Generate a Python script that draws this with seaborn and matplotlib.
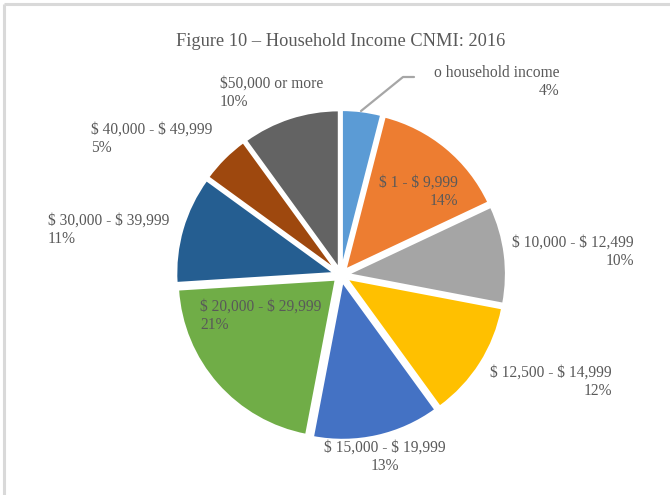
import matplotlib
matplotlib.use("Agg")
import matplotlib.pyplot as plt
import seaborn as sns

# ---- data ----
categories = ["No household income", "$ 1 - $ 9,999", "$ 10,000 - $ 12,499",
              "$ 12,500 - $ 14,999", "$ 15,000 - $ 19,999", "$ 20,000 - $ 29,999",
              "$ 30,000 - $ 39,999", "$ 40,000 - $ 49,999", "$50,000 or more"]
shown_labels = ["o household income", "$ 1 - $ 9,999", "$ 10,000 - $ 12,499",
                "$ 12,500 - $ 14,999", "$ 15,000 - $ 19,999", "$ 20,000 - $ 29,999",
                "$ 30,000 - $ 39,999", "$ 40,000 - $ 49,999", "$50,000 or more"]
shares = [4, 14, 10, 12, 13, 21, 11, 5, 10]
colors = ["#5B9BD5", "#ED7D31", "#A5A5A5", "#FFC000", "#4472C4",
          "#70AD47", "#255E91", "#9E480E", "#636363"]
title = "Figure 10 \u2013 Household Income CNMI: 2016"

sns.set_theme(style="white")
plt.rcParams["font.family"] = ["Liberation Serif", "DejaVu Serif"]
plt.rcParams["text.parse_math"] = False

W, H = 670, 495
fig = plt.figure(figsize=(W / 100, H / 100), dpi=100)
fig.patch.set_facecolor("white")
ax = fig.add_axes([0, 0, 1, 1])

cx, cy, r = 341, H - 275, 158
ax.pie(shares, colors=colors, startangle=90, counterclock=False,
       center=(cx, cy), radius=r, explode=[7] * len(shares),
       wedgeprops=dict(edgecolor="white", linewidth=1.5), frame=False)
ax.set_xlim(0, W)
ax.set_ylim(0, H)
ax.set_aspect("auto")
ax.axis("off")

# border (top & left visible)
ax.plot([4, 4], [0, H - 4], color="#D9D9D9", lw=2.2, solid_capstyle="butt")
ax.plot([4, W], [H - 4, H - 4], color="#D9D9D9", lw=2.2, solid_capstyle="butt")

txt = "#595959"
fs = 11.2

def lab(i, x, y, ha, ma):
    ax.text(x, H - y, f"{shown_labels[i]}\n{shares[i]}%", ha=ha, va="center",
            multialignment=ma, fontsize=fs, color=txt, linespacing=1.2)

lab(0, 559, 82, "right", "right")
lab(1, 458, 192, "right", "right")
lab(2, 634, 252, "right", "right")
lab(3, 612, 382, "right", "right")
lab(4, 385, 457, "center", "center")
lab(5, 200, 316, "left", "left")
lab(6, 48, 230, "left", "left")
lab(7, 91, 139, "left", "left")
lab(8, 220, 93, "left", "left")

# leader line for smallest slice
ax.plot([361, 403, 414], [H - 111, H - 77, H - 77], color="#A6A6A6", lw=1.6)

ax.text(341, H - 41, title, ha="center", va="center", fontsize=13.2, color=txt)

fig.savefig("out.png", dpi=100)
